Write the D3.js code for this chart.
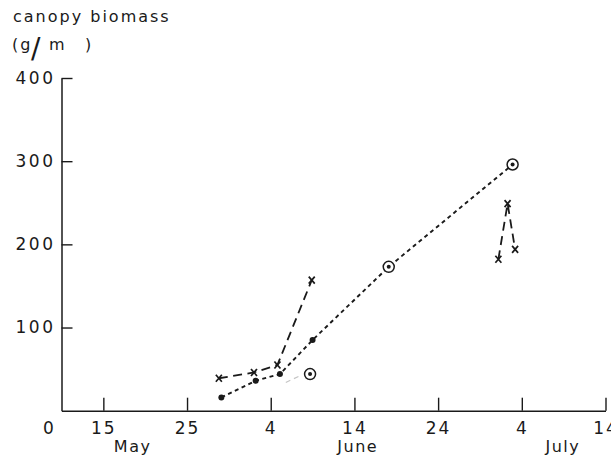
<!DOCTYPE html>
<html>
<head>
<meta charset="utf-8">
<script src="https://cdn.jsdelivr.net/npm/d3@7"></script>
<style>
  html, body { margin: 0; padding: 0; background: #fff; }
  svg text { font-family: "DejaVu Sans", sans-serif; fill: #1a1a1a; }
</style>
</head>
<body>
<svg id="chart" width="611" height="459"></svg>
<script>
// Days are counted from 10 May (the axis origin).
const tickDays   = [5, 15, 25, 35, 45, 55, 65];
const tickLabels = ["15", "25", "4", "14", "24", "4", "14"];
const monthNames = ["May", "June", "July"];
const monthDays  = [8.5, 35.4, 59.9];
const yTicks     = [100, 200, 300, 400];

// dotted series with filled dots (last two ringed)
const dotDays   = [19.1, 23.2, 26.1, 30.0, 39.1, 53.9];
const dotValues = [16, 36, 44, 85, 173, 296];
const dotRinged = [false, false, false, false, true, true];

// isolated ringed point with a faint trace leading to it
const loneDays   = [26.8, 28.7];
const loneValues = [34, 43];
const loneRingDay = 29.7, loneRingValue = 44;

// dashed series with crosses
const crossDaysA   = [18.8, 23.0, 25.8, 29.9];
const crossValuesA = [39, 46, 55, 157];
const crossDaysB   = [52.2, 53.3, 54.2];
const crossValuesB = [182, 249, 194];

const svg = d3.select("#chart");
const x = d3.scaleLinear().domain([0, 65]).range([61.5, 605.5]);
const y = d3.scaleLinear().domain([0, 400]).range([410.7, 78]);
const ink = "#1a1a1a";

// axes
const xAxis = d3.axisBottom(x).tickValues(tickDays)
  .tickFormat((d, i) => tickLabels[i]).tickSizeInner(-13).tickSizeOuter(0).tickPadding(11);
const gx = svg.append("g").attr("transform", `translate(0,${y(0)})`).call(xAxis);
gx.selectAll("text").style("font-size", "17px").attr("letter-spacing", "2");

const yAxis = d3.axisLeft(y).tickValues(yTicks).tickSizeInner(-11).tickSizeOuter(0).tickPadding(6);
const gy = svg.append("g").attr("transform", `translate(${x(0)},0)`).call(yAxis);
gy.selectAll("text").style("font-size", "17px").attr("letter-spacing", "2.5");

[gx, gy].forEach(g => {
  g.selectAll("path.domain").attr("stroke", ink).attr("stroke-width", 1.5);
  g.selectAll(".tick line").attr("stroke", ink).attr("stroke-width", 1.4);
  g.selectAll("text").attr("fill", ink).style("font-family", "DejaVu Sans, sans-serif");
});

// origin label
svg.append("text").attr("x", x(0) - 13).attr("y", y(0) + 23)
  .attr("text-anchor", "middle").style("font-size", "17px").text("0");

// month labels
svg.selectAll("text.month").data(monthNames).join("text")
  .attr("class", "month")
  .attr("x", (d, i) => x(monthDays[i])).attr("y", y(0) + 41)
  .attr("text-anchor", "middle").style("font-size", "16px")
  .attr("letter-spacing", "1.5").text(d => d);

// y-axis title
svg.append("text").attr("x", 13).attr("y", 22).style("font-size", "16px")
  .attr("letter-spacing", "2").text("canopy biomass");
const unit = svg.append("g");
unit.append("text").attr("x", 12).attr("y", 50).style("font-size", "16px")
  .attr("letter-spacing", "2").text("(g");
unit.append("text").attr("x", 31).attr("y", 58).style("font-size", "28px").text("/");
unit.append("text").attr("x", 49).attr("y", 50).style("font-size", "16px").text("m");
unit.append("text").attr("x", 85).attr("y", 50).style("font-size", "16px").text(")");

// lines
const line = d3.line().x(d => x(d[0])).y(d => y(d[1]));
const pts = (ds, vs) => ds.map((d, i) => [d, vs[i]]);

svg.append("path").datum(pts(loneDays, loneValues)).attr("d", line)
  .attr("fill", "none").attr("stroke", "#c4c4c4").attr("stroke-width", 1.2)
  .attr("stroke-dasharray", "5,4");

svg.append("path").datum(pts(dotDays, dotValues)).attr("d", line)
  .attr("fill", "none").attr("stroke", ink).attr("stroke-width", 1.9)
  .attr("stroke-dasharray", "4,3.5");

[[crossDaysA, crossValuesA], [crossDaysB, crossValuesB]].forEach(([ds, vs]) => {
  svg.append("path").datum(pts(ds, vs)).attr("d", line)
    .attr("fill", "none").attr("stroke", ink).attr("stroke-width", 1.8)
    .attr("stroke-dasharray", "9,5.5");
});

// markers
const dots = pts(dotDays, dotValues);
svg.selectAll("circle.dot").data(dots).join("circle").attr("class", "dot")
  .attr("cx", d => x(d[0])).attr("cy", d => y(d[1]))
  .attr("r", (d, i) => dotRinged[i] ? 1.8 : 3).attr("fill", ink);
const rings = dots.filter((d, i) => dotRinged[i]).concat([[loneRingDay, loneRingValue]]);
svg.selectAll("circle.ring").data(rings).join("circle").attr("class", "ring")
  .attr("cx", d => x(d[0])).attr("cy", d => y(d[1])).attr("r", 5.5)
  .attr("fill", "#fff").attr("stroke", ink).attr("stroke-width", 1.5);
svg.selectAll("circle.ringdot").data(rings).join("circle").attr("class", "ringdot")
  .attr("cx", d => x(d[0])).attr("cy", d => y(d[1])).attr("r", 2).attr("fill", ink);

const crosses = pts(crossDaysA, crossValuesA).concat(pts(crossDaysB, crossValuesB));
svg.selectAll("path.cross").data(crosses).join("path").attr("class", "cross")
  .attr("d", d => {
    const cx = x(d[0]), cy = y(d[1]);
    return `M${cx - 3},${cy - 3.5}L${cx + 3},${cy + 3.5}M${cx + 3},${cy - 3.5}L${cx - 3},${cy + 3.5}`;
  })
  .attr("stroke", ink).attr("stroke-width", 1.7).attr("fill", "none");
</script>
</body>
</html>
